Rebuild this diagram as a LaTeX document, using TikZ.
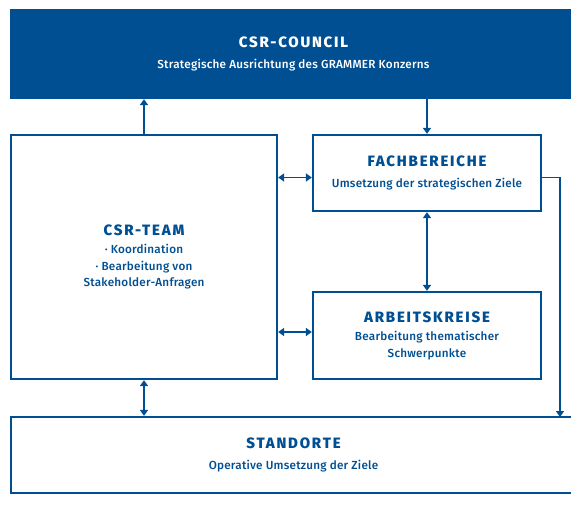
\documentclass[tikz,border=0pt]{standalone}
\usepackage{fontspec}
\setmainfont{Fira Sans}[BoldFont={Fira Sans SemiBold}]
\newfontfamily\bodyfont{Fira Sans Medium}[LetterSpace=2]
\usetikzlibrary{shapes,arrows.meta,positioning,calc}
\definecolor{grammerblue}{RGB}{0,79,146}

\newcommand{\boxtitle}[1]{{\fontsize{15}{17}\selectfont\bfseries\addfontfeatures{LetterSpace=12}#1}}

\begin{document}
\begin{tikzpicture}[x=1pt, y=-1pt,
    orgbox/.style={draw=grammerblue, line width=2.3pt, text=grammerblue,
        align=center, font=\bodyfont\fontsize{11.7}{16.5}\selectfont, inner sep=0pt},
    link/.style={draw=grammerblue, line width=1.9pt, -{Triangle[width=8pt,length=6pt]}},
    twoway/.style={link, {Triangle[width=8pt,length=6pt]}-{Triangle[width=8pt,length=6pt]}}]
    \clip (0,0) rectangle (571,509);
    \fill[white] (0,0) rectangle (571,509);

    \node[orgbox, fill=grammerblue, text=white, minimum width=565pt, minimum height=88pt] (council) at (293.5,54)
        {\boxtitle{CSR-COUNCIL}\\[4pt] Strategische Ausrichtung des GRAMMER Konzerns};
    \node[orgbox, minimum width=266pt, minimum height=244pt] (team) at (144,257)
        {\boxtitle{CSR-TEAM}\\[2pt] · Koordination\\ · Bearbeitung von\\ Stakeholder-Anfragen};
    \node[orgbox, minimum width=228pt, minimum height=76pt] (fach) at (427,173)
        {\boxtitle{FACHBEREICHE}\\[4pt] Umsetzung der strategischen Ziele};
    \node[orgbox, minimum width=228pt, minimum height=87pt] (arbeit) at (427,335.5)
        {\boxtitle{ARBEITSKREISE}\\[2pt] Bearbeitung thematischer\\ Schwerpunkte};
    \node[orgbox, minimum width=565pt, minimum height=76pt] (stand) at (293.5,455)
        {\boxtitle{STANDORTE}\\[4pt] Operative Umsetzung der Ziele};

    \coordinate (drop) at (560,417);

    \draw[link] (team.north) -- (team.north |- council.south);
    \draw[link] (council.south -| fach.north) -- (fach.north);
    \draw[twoway] ([yshift=-4.5pt]team.east |- fach.west) -- ([yshift=-4.5pt]fach.west);
    \draw[twoway] ([yshift=3.5pt]team.east |- arbeit.west) -- ([yshift=3.5pt]arbeit.west);
    \draw[twoway] (fach.south) -- (arbeit.north);
    \draw[twoway] (team.south) -- (team.south |- stand.north);
    \draw[link] ([yshift=-4.5pt]fach.east) -| (drop);
\end{tikzpicture}
\end{document}
